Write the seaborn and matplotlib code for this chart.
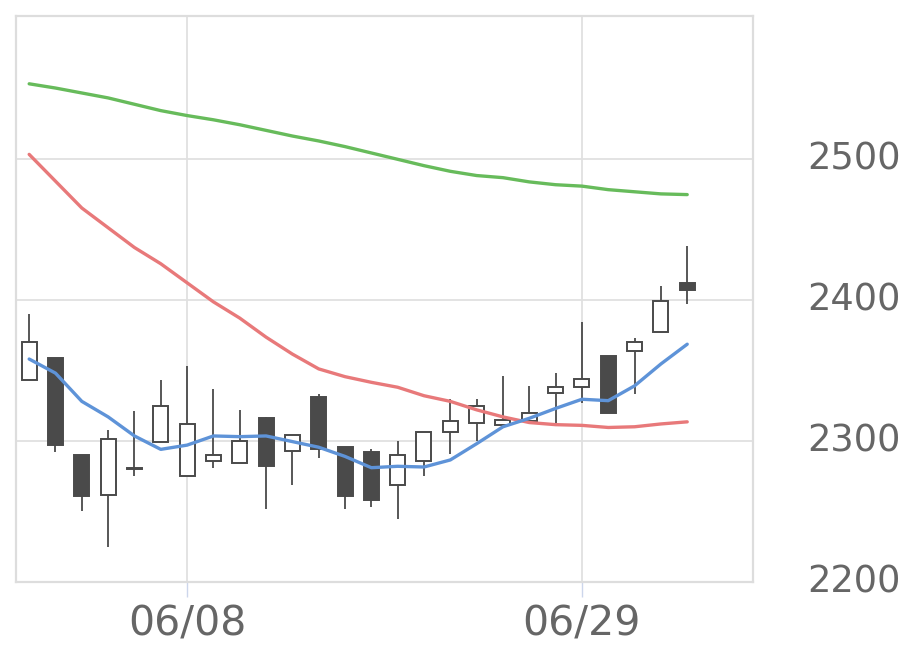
import pandas as pd
import seaborn as sns
import matplotlib.pyplot as plt
import matplotlib.transforms as mtransforms

# daily candles 2020-05-29 .. 2020-07-03
dates = ['05/29', '06/01', '06/02', '06/03', '06/04', '06/05', '06/08', '06/09',
         '06/10', '06/11', '06/12', '06/15', '06/16', '06/17', '06/18', '06/19',
         '06/22', '06/23', '06/24', '06/25', '06/26', '06/29', '06/30', '07/01',
         '07/02', '07/03']
open_ = [2343, 2359, 2290, 2262, 2281, 2299, 2275, 2286, 2284, 2316, 2293, 2331, 2296,
         2292, 2269, 2286, 2306, 2313, 2311, 2314, 2334, 2338, 2360, 2364, 2377, 2412]
high = [2390, 2359, 2290, 2308, 2321, 2343, 2353, 2337, 2322, 2317, 2304, 2333, 2296,
        2294, 2300, 2306, 2330, 2330, 2346, 2339, 2348, 2384, 2360, 2373, 2410, 2438]
low = [2343, 2292, 2250, 2225, 2275, 2299, 2275, 2281, 2284, 2252, 2269, 2288, 2252,
       2253, 2245, 2275, 2291, 2300, 2310, 2314, 2313, 2327, 2320, 2333, 2377, 2397]
close = [2370, 2297, 2261, 2301, 2280, 2325, 2312, 2290, 2300, 2282, 2304, 2294, 2261,
         2258, 2290, 2306, 2314, 2325, 2315, 2320, 2338, 2344, 2320, 2370, 2399, 2407]

ma5 = [2358, 2348, 2328, 2317, 2303.5, 2294, 2297, 2303.5, 2303, 2303.5, 2299.5, 2295.5,
       2289, 2281, 2282, 2281.5, 2286.5, 2298, 2310, 2316, 2323, 2329.5, 2328.5, 2339,
       2354.5, 2368.5]
ma25 = [2503, 2484, 2465, 2451, 2437, 2425.5, 2412, 2398.5, 2387, 2373.5, 2361.5, 2351,
        2345.5, 2341.5, 2338, 2332, 2328, 2322, 2317, 2313, 2311.5, 2311, 2309.5, 2310,
        2312, 2313.5]
ma75 = [2553, 2550, 2546.5, 2543, 2538.5, 2534, 2530.5, 2527.5, 2524, 2520, 2516, 2512.5,
        2508.5, 2504, 2499.5, 2495, 2491, 2488, 2486.5, 2483.5, 2481.5, 2480.5, 2478,
        2476.5, 2475, 2474.5]

xtick_labels = ['06/08', '06/29']
ytick_values = [2200, 2300, 2400, 2500]

df = pd.DataFrame({'date': dates, 'open': open_, 'high': high, 'low': low,
                   'close': close, 'ma5': ma5, 'ma25': ma25, 'ma75': ma75})
df['i'] = range(len(df))

sns.set_theme(style='white')
plt.rcParams['font.family'] = ['DejaVu Sans']

fig = plt.figure(figsize=(9.2, 6.69), dpi=100)
ax = fig.add_axes([0.0174, 0.130, 0.8011, 0.846])

dark = '#4a4a4a'
up = df['close'] >= df['open']
body_lo = df[['open', 'close']].min(axis=1)
body_h = (df['close'] - df['open']).abs().clip(lower=1)

ax.vlines(df['i'], df['low'], df['high'], color=dark, lw=1.3, zorder=2)
ax.bar(df['i'], body_h, bottom=body_lo, width=0.57,
       color=['white' if u else dark for u in up], edgecolor=dark, linewidth=1.4, zorder=3)

sns.lineplot(data=df, x='i', y='ma75', color='#67bb5b', lw=2.4, ax=ax, zorder=4)
sns.lineplot(data=df, x='i', y='ma25', color='#e8797a', lw=2.4, ax=ax, zorder=4)
sns.lineplot(data=df, x='i', y='ma5', color='#5e93d8', lw=2.4, ax=ax, zorder=4)

ax.set_xlim(-0.5, 27.5)
ax.set_ylim(2200, 2601)
ax.set_xticks([dates.index(d) for d in xtick_labels])
ax.set_xticklabels(xtick_labels)
ax.set_yticks(ytick_values)
ax.set_xlabel('')
ax.set_ylabel('')

ax.grid(True, color='#e0e0e0', lw=1.3)
ax.set_axisbelow(True)
for s in ax.spines.values():
    s.set_color('#dddddd')
    s.set_linewidth(1.6)

ax.yaxis.tick_right()
ax.tick_params(axis='y', length=0, pad=39, labelsize=26.5, labelcolor='#666666')
ax.tick_params(axis='x', bottom=True, length=11, width=1, color='#ccd6eb', pad=5,
               labelsize=29.5, labelcolor='#666666')

# y labels sit a few pixels above their gridlines in the original
shift = mtransforms.ScaledTranslation(0, 4 / 100, fig.dpi_scale_trans)
for lab in ax.get_yticklabels():
    lab.set_transform(lab.get_transform() + shift)

fig.savefig('out.png', dpi=100)
